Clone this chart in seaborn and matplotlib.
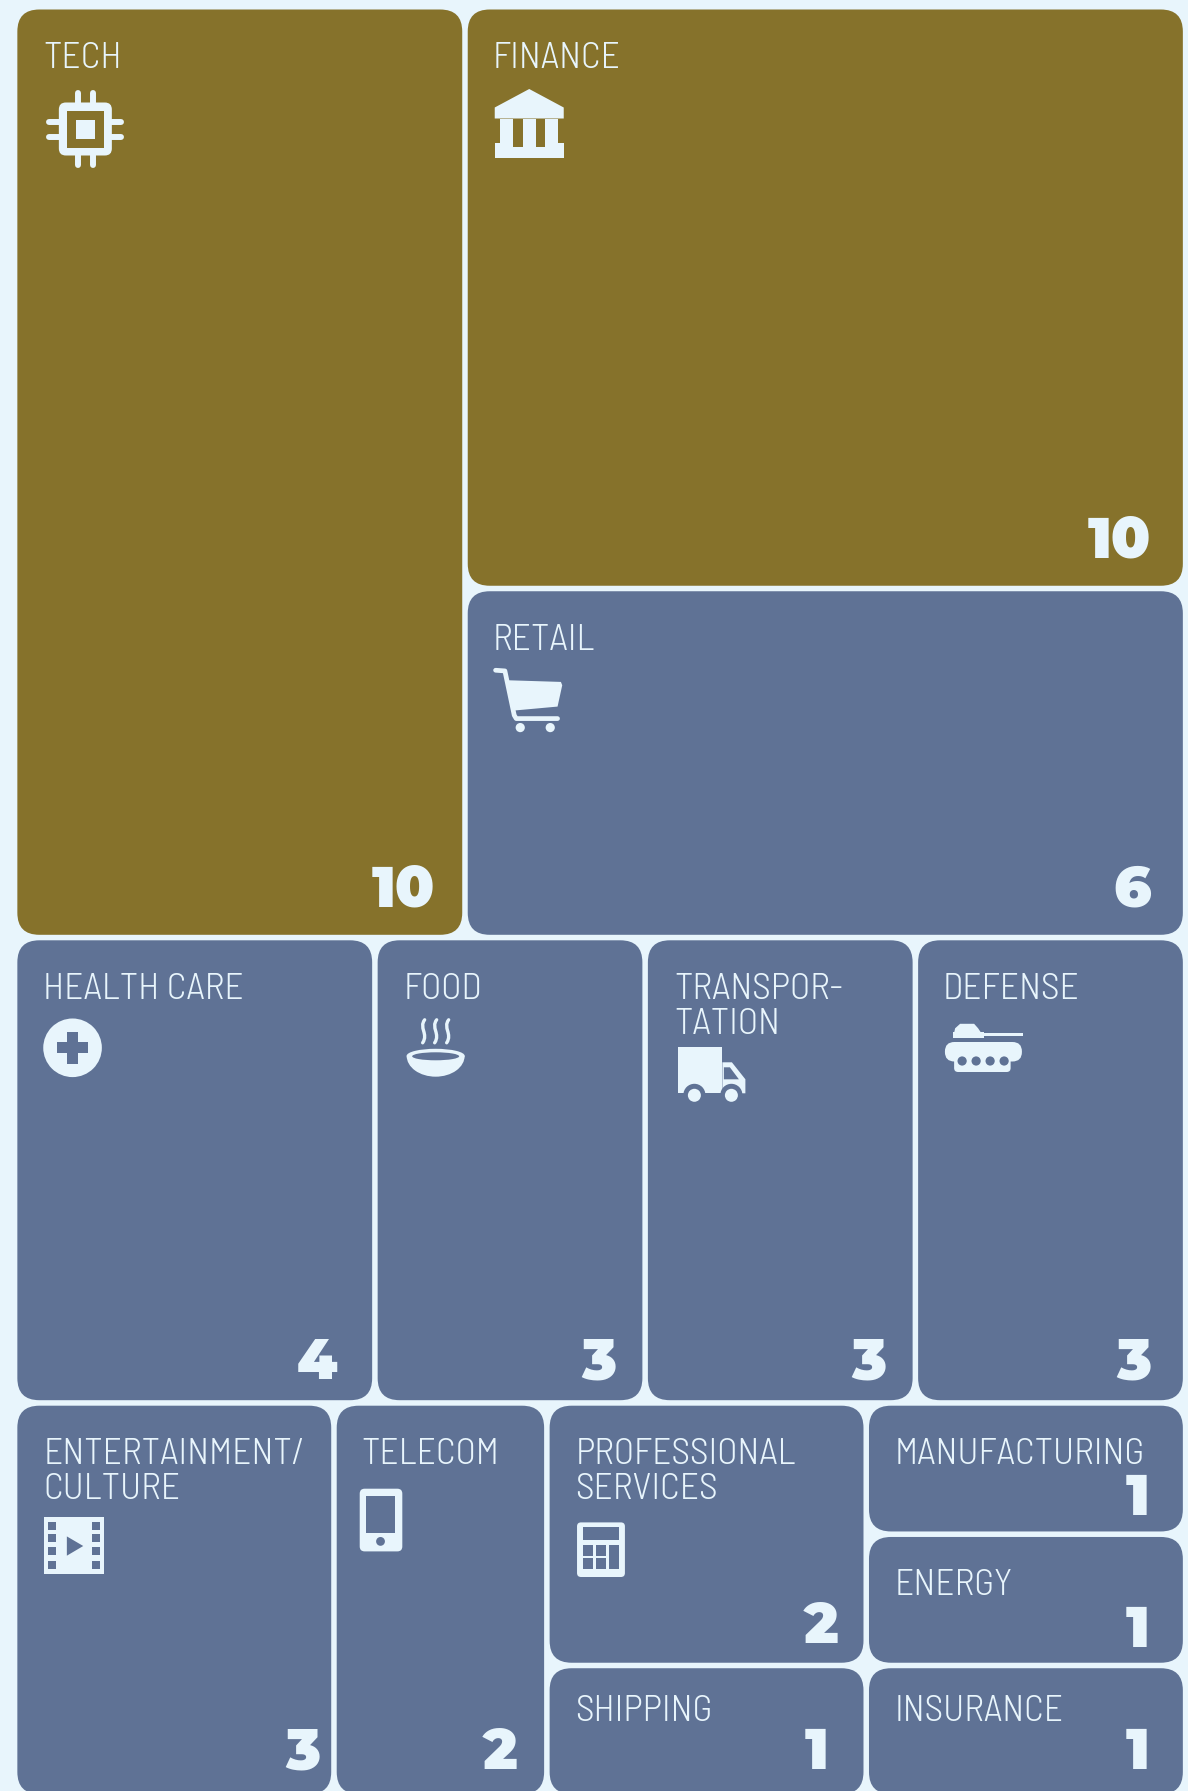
import matplotlib
matplotlib.use("Agg")
import matplotlib.pyplot as plt
import seaborn as sns
from matplotlib.patches import Circle, Ellipse, FancyBboxPatch, Polygon, Rectangle, Wedge
from matplotlib.path import Path
from matplotlib.patches import PathPatch
from matplotlib.transforms import Affine2D

# Number of companies per sector
sectors = ["TECH", "FINANCE", "RETAIL",
           "HEALTH CARE", "FOOD", "TRANSPOR-\nTATION", "DEFENSE",
           "ENTERTAINMENT/\nCULTURE", "TELECOM", "PROFESSIONAL\nSERVICES", "SHIPPING",
           "MANUFACTURING", "ENERGY", "INSURANCE"]
counts = [10, 10, 6, 4, 3, 3, 3, 3, 2, 2, 1, 1, 1, 1]
top_sectors = ["TECH", "FINANCE"]

# Slice-and-dice nesting of the treemap: "h" splits across, "v" splits down
tree = ("v", [
    ("h", [0, ("v", [1, 2])]),
    ("h", [3, 4, 5, 6]),
    ("h", [7, 8, ("v", [9, 10]), ("v", [11, 12, 13])]),
])

BG = "#E8F5FC"
OLIVE = "#86722B"
SLATE = "#5F7295"
GAP = 5.5
RADIUS = 22

sns.set_theme(style="white")
palette = sns.color_palette([OLIVE, SLATE])
label_fonts = ["Barlow Semi Condensed", "Inter Tight", "DejaVu Sans"]
count_fonts = ["Montserrat Black", "Montserrat Alternates", "Inter", "DejaVu Sans"]

fig = plt.figure(figsize=(11.88, 17.91), dpi=100, facecolor=BG)
ax = fig.add_axes([0, 0, 1, 1])
ax.set_xlim(0, 1188)
ax.set_ylim(1791, 0)
ax.set_aspect("equal")
ax.axis("off")


def weight(node):
    if isinstance(node, int):
        return counts[node]
    return sum(weight(c) for c in node[1])


def layout(node, x, y, w, h, out):
    if isinstance(node, int):
        out[node] = (x, y, w, h)
        return
    kind, children = node
    total = weight(node)
    for child in children:
        share = weight(child) / total
        if kind == "h":
            layout(child, x, y, w * share, h, out)
            x += w * share
        else:
            layout(child, x, y, w, h * share, out)
            y += h * share


def box(x, y, w, h, color, r=0.0, z=3):
    if r > 0:
        ax.add_patch(FancyBboxPatch((x, y), w, h, boxstyle=f"round,pad=0,rounding_size={r}",
                                    fc=color, ec="none", zorder=z))
    else:
        ax.add_patch(Rectangle((x, y), w, h, fc=color, ec="none", zorder=z))


def poly(pts, color, z=3):
    ax.add_patch(Polygon(pts, closed=True, fc=color, ec="none", zorder=z))


def disc(x, y, r, color, z=3):
    ax.add_patch(Circle((x, y), r, fc=color, ec="none", zorder=z))


def stroke(pts, lw, z=3):
    xs, ys = zip(*pts)
    ax.plot(xs, ys, color=BG, lw=lw, solid_capstyle="round", solid_joinstyle="round", zorder=z)


# Pictograms: (x, y) is the tile's top-left corner
def icon_chip(x, y, c):
    cx, cy = x + 68, y + 119.5
    for d in (-7.5, 7.5):
        stroke([(cx + d, cy - 36), (cx + d, cy + 36)], 4.3)
        stroke([(cx - 36, cy + d), (cx + 36, cy + d)], 4.3)
    box(cx - 26.5, cy - 26.5, 53, 53, BG, 7, 4)
    box(cx - 18.5, cy - 18.5, 37, 37, c, 0, 5)
    box(cx - 9.5, cy - 9.5, 19, 19, BG, 0, 6)


def icon_bank(x, y, c):
    cx = x + 61.5
    y = y + 1
    poly([(cx, y + 78.5), (cx + 34.5, y + 97), (cx + 34.5, y + 108), (cx - 34.5, y + 108), (cx - 34.5, y + 97)], BG)
    for dx in (-29, -6.5, 16):
        box(cx + dx, y + 108, 13, 28, BG)
    box(cx - 34.5, y + 136.5, 69, 11, BG)
    for dx in (-34.5, 29):
        box(cx + dx, y + 132, 5.5, 6, BG)


def icon_cart(x, y, c):
    ox, oy = x - 167.5, y - 112
    k = 1 / 3
    pt = lambda a, b: (ox + a * k, oy + b * k)
    stroke([pt(586, 573), pt(614, 575), pt(642, 708), pt(648, 718), pt(772, 718)], 3.4)
    poly([pt(622, 603), pt(782, 608), pt(786, 618), pt(772, 682), pt(640, 694)], BG)
    disc(*pt(660, 745), 4.6, BG)
    disc(*pt(750, 745), 4.6, BG)


def icon_health(x, y, c):
    cx, cy = x + 55.2, y + 107.5
    disc(cx, cy, 29.3, BG)
    box(cx - 15.7, cy - 5.5, 31.4, 11, c, 0, 4)
    box(cx - 5.5, cy - 15.7, 11, 31.4, c, 0, 4)


def icon_food(x, y, c):
    cx, cy = x + 58, y + 115.5
    for dx in (-12, 0, 12):
        verts = [(cx + dx + 1, cy - 36), (cx + dx - 5, cy - 28), (cx + dx + 5, cy - 22), (cx + dx - 1, cy - 13)]
        ax.add_patch(PathPatch(Path(verts, [Path.MOVETO, Path.CURVE4, Path.CURVE4, Path.CURVE4]),
                               fc="none", ec=BG, lw=2.4, capstyle="round", zorder=3))
    bowl = Wedge((0, 0), 29, 0, 180, fc=BG, ec="none", zorder=3)
    bowl.set_transform(Affine2D().scale(1, 0.72).translate(cx, cy) + ax.transData)
    ax.add_patch(bowl)
    ax.add_patch(Ellipse((cx, cy), 58, 14, fc=BG, ec="none", zorder=4))
    ax.add_patch(Ellipse((cx, cy + 0.5), 47, 8, fc=c, ec="none", zorder=5))


def icon_truck(x, y, c):
    y = y + 1
    box(x + 30, y + 106, 44.5, 46, BG)
    poly([(x + 74.5, y + 121), (x + 84, y + 121), (x + 97.5, y + 138), (x + 97.5, y + 152), (x + 74.5, y + 152)], BG)
    poly([(x + 76, y + 126), (x + 82, y + 126), (x + 91, y + 138), (x + 76, y + 138)], c, 4)
    for dx in (46.5, 83.5):
        disc(x + dx, y + 153.5, 11, c, 4)
        disc(x + dx, y + 154, 6.5, BG, 5)


def icon_tank(x, y, c):
    poly([(x + 35, y + 97), (x + 37, y + 88), (x + 42, y + 83.5), (x + 56, y + 83.5), (x + 60, y + 88),
          (x + 66, y + 97)], BG)
    box(x + 35, y + 92, 31, 5.5, BG)
    box(x + 66, y + 92.5, 39, 3.2, BG)
    box(x + 26.8, y + 101.7, 77, 19.5, BG, 9.5)
    box(x + 36, y + 112, 56.5, 19.7, BG, 4)
    for dx in (44, 58, 72, 86):
        disc(x + dx, y + 120.7, 4.6, c, 4)


def icon_film(x, y, c):
    box(x + 26.5, y + 111, 60, 57, BG)
    for hx in (31, 74.5):
        for hy in (116, 128.5, 141.5, 155):
            box(x + hx, y + hy, 7.7, 8, c, 0, 4)
    poly([(x + 49.5, y + 130.7), (x + 65.9, y + 140.3), (x + 49.5, y + 150)], c, 4)


def icon_phone(x, y, c):
    box(x + 23, y + 83, 42.6, 62.7, BG, 5)
    box(x + 29.6, y + 90.7, 29, 36.3, c, 0, 4)
    disc(x + 43.8, y + 135.7, 4.4, c, 4)


def icon_calc(x, y, c):
    box(x + 27.4, y + 116.7, 47.9, 54.6, BG, 4)
    box(x + 33.7, y + 121.7, 36, 13, c, 0, 4)
    for dx in (33.7, 46):
        for dy in (139.5, 152.5):
            box(x + dx, y + dy, 10, 10.7, c, 0, 4)
    box(x + 59, y + 139.5, 10.7, 23.7, c, 0, 4)


icons = {"TECH": icon_chip, "FINANCE": icon_bank, "RETAIL": icon_cart, "HEALTH CARE": icon_health,
         "FOOD": icon_food, "TRANSPOR-\nTATION": icon_truck, "DEFENSE": icon_tank,
         "ENTERTAINMENT/\nCULTURE": icon_film, "TELECOM": icon_phone, "PROFESSIONAL\nSERVICES": icon_calc}

# Per-tile placement of the text inside each tile
count_bottom = {"MANUFACTURING": 16, "ENERGY": 16, "PROFESSIONAL\nSERVICES": 20,
                "HEALTH CARE": 21, "FOOD": 21, "TRANSPOR-\nTATION": 21, "DEFENSE": 21,
                "ENTERTAINMENT/\nCULTURE": 25, "TELECOM": 25, "SHIPPING": 25, "INSURANCE": 25}
count_right = {"FINANCE": 32, "RETAIL": 32, "HEALTH CARE": 35, "FOOD": 26, "TRANSPOR-\nTATION": 26,
               "DEFENSE": 32, "ENTERTAINMENT/\nCULTURE": 11, "PROFESSIONAL\nSERVICES": 25, "SHIPPING": 35,
               "MANUFACTURING": 33, "ENERGY": 33, "INSURANCE": 33}
label_top = {"SHIPPING": 53, "INSURANCE": 53}
label_left = {"TELECOM": 25, "FINANCE": 25, "RETAIL": 25, "DEFENSE": 25}

rects = {}
layout(tree, 14.6, 6.75, 1171, 1790, rects)

for i, name in enumerate(sectors):
    rx, ry, rw, rh = rects[i]
    x0, y0 = rx + GAP / 2, ry + GAP / 2
    w, h = rw - GAP, rh - GAP
    color = palette[0] if name in top_sectors else palette[1]
    ax.add_patch(FancyBboxPatch((x0, y0), w, h, boxstyle=f"round,pad=0,rounding_size={RADIUS}",
                                fc=color, ec="none", zorder=2))
    for j, line in enumerate(name.split("\n")):
        ax.text(x0 + label_left.get(name, 26), y0 + label_top.get(name, 58.5) + 35 * j, line, color=BG,
                family=label_fonts, fontweight=300, fontsize=27, ha="left", va="baseline", zorder=7)
    ax.text(x0 + w - count_right.get(name, 27), y0 + h - count_bottom.get(name, 28), str(counts[i]), color=BG,
            family=count_fonts, fontweight=900, fontsize=41, ha="right", va="baseline", zorder=7)
    if name in icons:
        icons[name](x0, y0, color)

fig.savefig("out.png", dpi=100, facecolor=BG)
